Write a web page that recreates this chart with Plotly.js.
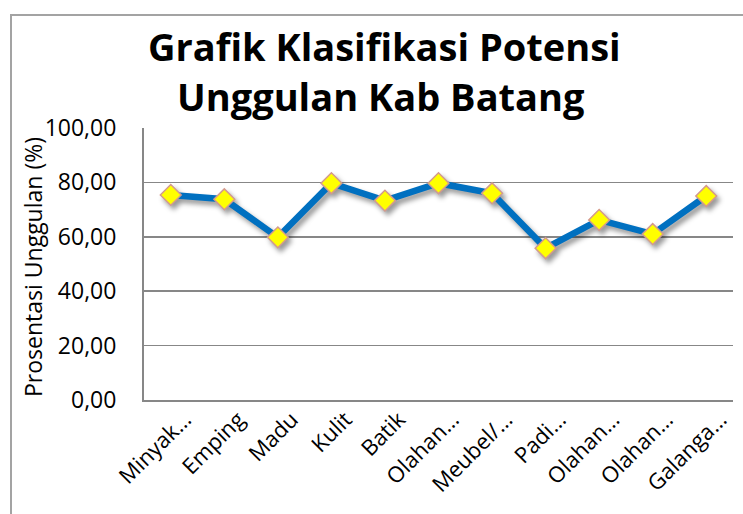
<!DOCTYPE html>
<html>
<head>
<meta charset="utf-8">
<script src="https://cdn.plot.ly/plotly-3.0.1.min.js"></script>
<style>
  html, body { margin: 0; padding: 0; background: #fff; }
  #wrap { position: relative; width: 743px; height: 514px; overflow: hidden; }
  #frame { position: absolute; left: 10px; top: 14px; width: 800px; height: 600px;
           border-left: 2px solid #a3a3a3; border-top: 2px solid #a3a3a3; pointer-events: none; }
  #chart { position: absolute; left: 0; top: 0; width: 743px; height: 514px; }
</style>
</head>
<body>
<div id="wrap">
  <div id="chart"></div>
  <div id="frame"></div>
</div>
<script>
const categories = ["Minyak\u2026", "Emping", "Madu", "Kulit", "Batik", "Olahan\u2026",
                    "Meubel/\u2026", "Padi\u2026", "Olahan\u2026", "Olahan\u2026", "Galanga\u2026"];
const values = [75.4, 73.8, 59.8, 79.7, 73.3, 79.7, 76.0, 55.8, 66.2, 61.0, 75.0];
const yTicks = [0, 20, 40, 60, 80, 100];
const yTickLabels = ["0,00", "20,00", "40,00", "60,00", "80,00", "100,00"];
const titleLines = ["Grafik Klasifikasi Potensi", "Unggulan Kab Batang"];
const yTitle = "Prosentasi Unggulan (%)";

const idx = categories.map((_, i) => i);
const FONT = "Open Sans, sans-serif";

const trace = {
  type: "scatter",
  mode: "lines+markers",
  x: idx,
  y: values,
  line: { color: "#0070C0", width: 6.5 },
  marker: { symbol: "diamond", size: 16, color: "#FFFF00",
            line: { color: "#D49A8C", width: 1.5 } },
  hoverinfo: "skip",
  showlegend: false
};

const layout = {
  width: 743, height: 514,
  margin: { l: 144, r: 10, t: 128, b: 114 },
  paper_bgcolor: "#fff", plot_bgcolor: "#fff",
  font: { family: FONT, color: "#000" },
  xaxis: {
    range: [-0.5, categories.length - 0.5],
    tickvals: idx, ticktext: categories,
    tickangle: -45, tickfont: { size: 22, family: FONT, color: "#000" },
    showgrid: false, zeroline: false, showline: true, linecolor: "#878787", linewidth: 2,
    ticks: "", fixedrange: true, ticklabelshift: 14, ticklabelstandoff: -4
  },
  yaxis: {
    range: [0, 100], tickvals: yTicks, ticktext: yTickLabels,
    tickfont: { size: 23, family: FONT, color: "#000" },
    showgrid: true, gridcolor: "#878787", gridwidth: 1.5,
    zeroline: false, showline: true, linecolor: "#878787", linewidth: 2,
    ticks: "", ticklabelstandoff: 21, fixedrange: true
  },
  annotations: [
    { text: "<b>" + titleLines[0] + "</b>", xref: "paper", yref: "paper",
      x: 0.408, y: 1 + (128 - 64 - 10) / 272, xanchor: "center", yanchor: "bottom",
      showarrow: false, font: { size: 38, family: FONT, color: "#000" } },
    { text: "<b>" + titleLines[1] + "</b>", xref: "paper", yref: "paper",
      x: 0.403, y: 1 + (128 - 114 - 10) / 272, xanchor: "center", yanchor: "bottom",
      showarrow: false, font: { size: 38, family: FONT, color: "#000" } },
    { text: yTitle, xref: "paper", yref: "paper", textangle: -90,
      x: (33 - 144) / 589, y: (400 - 267) / 272, xanchor: "center", yanchor: "middle",
      showarrow: false, font: { size: 23, family: FONT, color: "#000" } }
  ]
};

Plotly.newPlot("chart", [trace], layout, { displayModeBar: false, staticPlot: true }).then(() => {
  document.querySelectorAll(".scatterlayer .trace").forEach(g => {
    g.style.filter = "drop-shadow(3px 4px 2.5px rgba(0,0,0,0.4))";
  });
});
</script>
</body>
</html>
